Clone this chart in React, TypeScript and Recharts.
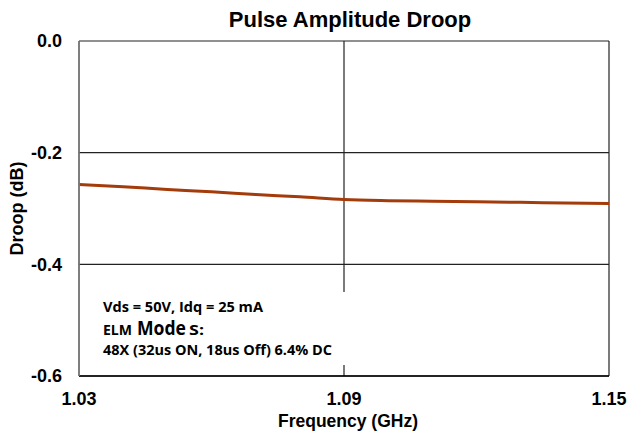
import { LineChart, Line, XAxis, YAxis, CartesianGrid } from 'recharts'

const frequency = [1.03, 1.04, 1.05, 1.06, 1.07, 1.08, 1.09, 1.1, 1.11, 1.12, 1.13, 1.14, 1.15]
const droop = [-0.257, -0.261, -0.266, -0.27, -0.275, -0.279, -0.284, -0.286, -0.287, -0.288, -0.289, -0.29, -0.291]
const xTicks = [1.03, 1.09, 1.15]
const yTicks = [0, -0.2, -0.4, -0.6]

const data = frequency.map((f, i) => ({ f, droop: droop[i] }))

const axisFont = { fontFamily: 'Arial, Liberation Sans, sans-serif', fontWeight: 700, fontSize: 18, fill: '#000' }
const noteFont = 'Open Sans, Noto Sans, sans-serif'

function YLabel() {
  return (
    <text
      x={23}
      y={208.5}
      transform="rotate(-90, 23, 208.5)"
      textAnchor="middle"
      style={{ ...axisFont, fontSize: 18 }}
    >
      Droop (dB)
    </text>
  )
}

export default function App() {
  return (
    <div style={{ position: 'absolute', left: 0, top: 0, width: 629, height: 439, background: '#fff' }}>
      <LineChart width={629} height={439} data={data} margin={{ top: 41, right: 20, bottom: 0, left: 0 }}>
        <CartesianGrid stroke="#222" strokeWidth={1.2} horizontal vertical />
        <XAxis
          dataKey="f"
          type="number"
          domain={[1.03, 1.15]}
          ticks={xTicks}
          tickFormatter={(v: number) => v.toFixed(2)}
          height={63}
          tickSize={0}
          tickMargin={16}
          axisLine={{ stroke: '#000', strokeWidth: 1.5 }}
          tick={axisFont}
          label={{ value: 'Frequency (GHz)', position: 'insideBottom', offset: 12, style: { ...axisFont, fontSize: 17.5 }, dx: 4 }}
        />
        <YAxis
          type="number"
          domain={[-0.6, 0]}
          ticks={yTicks}
          tickFormatter={(v: number) => (v === 0 ? '0.0' : v.toFixed(1))}
          width={79}
          tickSize={0}
          tickMargin={17}
          axisLine={{ stroke: '#808080', strokeWidth: 1.5 }}
          tick={axisFont}
          label={<YLabel />}
        />
        <Line
          type="monotone"
          dataKey="droop"
          stroke="#A33B0B"
          strokeWidth={3}
          dot={false}
          isAnimationActive={false}
        />
      </LineChart>
      <svg width={629} height={439} style={{ position: 'absolute', left: 0, top: 0, pointerEvents: 'none' }}>
        <text x={350} y={27} textAnchor="middle" style={{ ...axisFont, fontSize: 22 }}>
          Pulse Amplitude Droop
        </text>
        <rect x={96} y={292} width={254} height={73} fill="#fff" />
        <g fontFamily={noteFont} fontWeight={700} fill="#000">
          <text x={103} y={312} fontSize={14} textLength={160} lengthAdjust="spacingAndGlyphs">
            Vds = 50V, Idq = 25 mA
          </text>
          <text x={103} y={335} fontSize={14} textLength={29} lengthAdjust="spacingAndGlyphs">
            ELM
          </text>
          <text x={137} y={335} fontSize={19} textLength={49} lengthAdjust="spacingAndGlyphs">
            Mode
          </text>
          <text x={189} y={335} fontSize={14} textLength={15} lengthAdjust="spacingAndGlyphs">
            S:
          </text>
          <text x={103} y={355} fontSize={14} textLength={229} lengthAdjust="spacingAndGlyphs">
            48X (32us ON, 18us Off) 6.4% DC
          </text>
        </g>
      </svg>
    </div>
  )
}
